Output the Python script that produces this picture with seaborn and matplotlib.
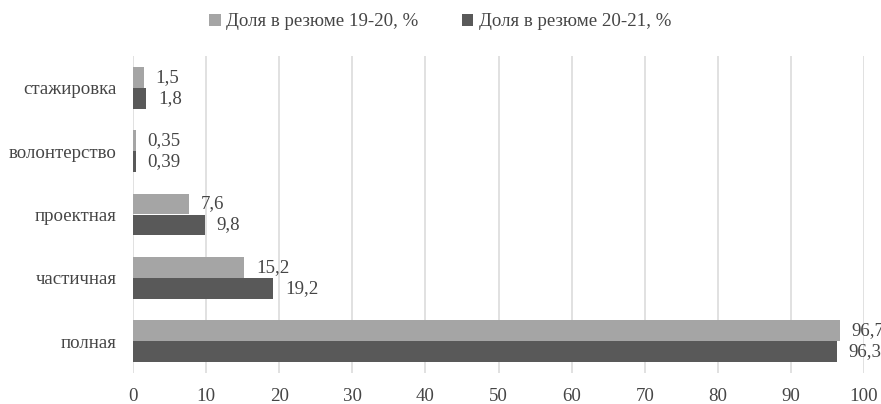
import matplotlib
matplotlib.use("Agg")
import matplotlib.pyplot as plt
import seaborn as sns
import pandas as pd

# Employment types and the share of CVs mentioning each, two seasons
categories = ["стажировка", "волонтерство", "проектная", "частичная", "полная"]
series_names = ["Доля в резюме 19-20, %", "Доля в резюме 20-21, %"]
share_19_20 = [1.5, 0.35, 7.6, 15.2, 96.7]
share_20_21 = [1.8, 0.39, 9.8, 19.2, 96.3]
x_ticks = [0, 10, 20, 30, 40, 50, 60, 70, 80, 90, 100]

df = pd.DataFrame({
    "category": categories * 2,
    "series": [series_names[0]] * len(categories) + [series_names[1]] * len(categories),
    "value": share_19_20 + share_20_21,
})

sns.set_theme(style="white")
plt.rcParams["font.family"] = ["Liberation Serif", "DejaVu Serif"]
text_color = "#454545"
fs = 13.6

fig = plt.figure(figsize=(8.81, 4.04), dpi=100)
ax = fig.add_axes([133 / 881, 1 - 373 / 404, (864 - 133) / 881, (373 - 56) / 404])

palette = {series_names[0]: "#a5a5a5", series_names[1]: "#595959"}
sns.barplot(data=df, y="category", x="value", hue="series", order=categories,
            hue_order=series_names, palette=palette, orient="h",
            width=0.66, gap=0, saturation=1, edgecolor="none", ax=ax, legend=True)

for container, vals in zip(ax.containers, [share_19_20, share_20_21]):
    ax.bar_label(container, labels=[f"{v:g}".replace(".", ",") for v in vals],
                 padding=8.5, fontsize=fs, color=text_color, clip_on=False)

ax.set_xlim(0, 100)
ax.set_xticks(x_ticks)
ax.set_xticklabels([str(t) for t in x_ticks])
ax.set_ylim(len(categories) - 0.5, -0.5)
ax.grid(axis="x", color="#d9d9d9", linewidth=1.1)
ax.grid(axis="y", visible=False)
ax.set_axisbelow(True)
for s in ax.spines.values():
    s.set_visible(False)
ax.tick_params(axis="both", length=0, labelsize=fs, colors=text_color)
ax.tick_params(axis="x", pad=11)
ax.tick_params(axis="y", pad=11.5)
ax.set_xlabel("")
ax.set_ylabel("")

handles, labels = ax.get_legend_handles_labels()
ax.get_legend().remove()
fig.legend(handles, labels, loc="upper center", bbox_to_anchor=(0.5, 1.0),
           ncol=2, frameon=False, fontsize=fs, labelcolor=text_color,
           handlelength=0.6, handleheight=0.6, handletextpad=0.3,
           columnspacing=2.3, borderaxespad=0.3)

fig.savefig("out.png", dpi=100, facecolor="white")
